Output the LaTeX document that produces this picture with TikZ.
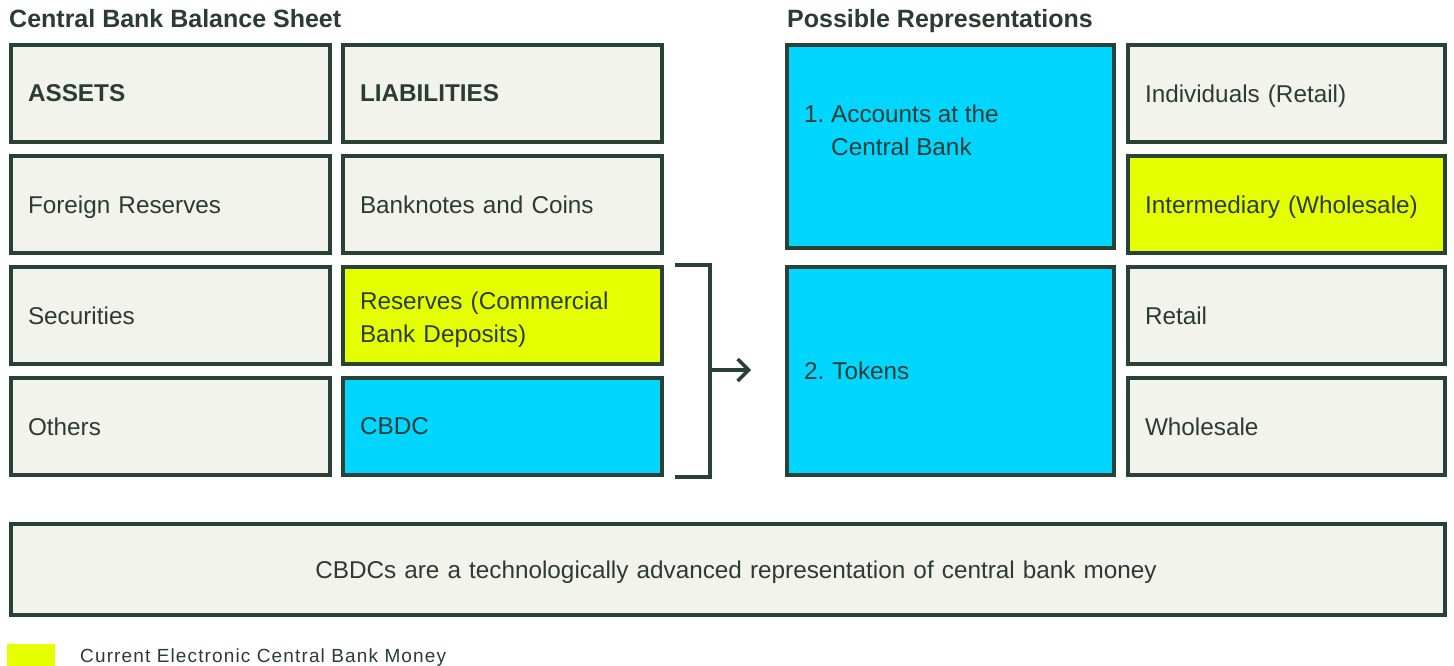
\documentclass[tikz,border=0pt]{standalone}
\usepackage{fontspec}
\setmainfont{Liberation Sans}
\usetikzlibrary{arrows.meta}
\definecolor{edge}{HTML}{284236}
\definecolor{ink}{HTML}{2A3C33}
\definecolor{paper}{HTML}{F3F3EE}
\definecolor{cyanbox}{HTML}{00D6FF}
\definecolor{limebox}{HTML}{E6FF00}
\begin{document}
\begin{tikzpicture}[x=1pt,y=-1pt,
  body/.style={font=\fontsize{24.3}{33.5}\selectfont},
  cell/.style={draw=edge, line width=4pt, fill=paper, inner sep=0pt,
    minimum width=319pt, minimum height=97pt, text width=285pt,
    text depth=0pt, align=left, text=ink, body},
  rcell/.style={cell, minimum width=317pt, text width=283pt},
  title/.style={anchor=base west, inner sep=0pt, text=ink,
    font=\fontsize{25}{28}\selectfont\bfseries},
  lime/.style={fill=limebox},
  sky/.style={fill=cyanbox},
  bracket/.style={draw=edge, line width=4pt},
  arrow/.style={draw=edge, line width=3.5pt,
    -{Straight Barb[length=11pt,width=22pt]}}
]
\useasboundingbox (0,0) rectangle (1454,666);

% titles
\node[title] (t1) at (9,28) {Central Bank Balance Sheet};
\node[title] (t2) at (787,28) {Possible Representations};

% balance sheet
\node[cell] (assets) at (170.5,93.5) {\bfseries ASSETS};
\node[cell] (liab)   at (502.5,93.5) {\bfseries LIABILITIES};
\node[cell] (forex)  at (170.5,204.5) {Foreign Reserves};
\node[cell] (notes)  at (502.5,204.5) {Banknotes and Coins};
\node[cell] (secs)   at (170.5,315.5) {Securities};
\node[cell, lime, text depth=30.5pt] (res) at (502.5,315.5) {Reserves (Commercial\\Bank Deposits)};
\node[cell] (others) at (170.5,426.5) {Others};
\node[cell, sky] (cbdc) at (502.5,426.5) {CBDC};

% representations
\node[cell, sky, minimum width=327pt, minimum height=203pt] (acc) at (950.5,146.5) {};
\node[anchor=west, inner sep=0pt, align=left, text=ink, body, text depth=0pt] (accT) at (804,130)
  {1.\ Accounts at the\\\hphantom{1.\ }Central Bank};
\node[cell, sky, minimum width=327pt, minimum height=208pt, text width=293pt] (tok) at (950.5,371) {2.\ Tokens};

\node[rcell] (indiv)  at (1286.5,93.5) {Individuals (Retail)};
\node[rcell, lime] (inter) at (1286.5,204.5) {Intermediary (Wholesale)};
\node[rcell] (retail) at (1286.5,315.5) {Retail};
\node[rcell] (whole)  at (1286.5,426.5) {Wholesale};

% bracket and arrow
\coordinate (bt) at ([xshift=11pt]res.north east);
\coordinate (bb) at ([xshift=11pt]cbdc.south east);
\draw[bracket] (bt) -- ++(35,0) |- (bb);
\coordinate (bm) at (708.5,370);
\coordinate (ae) at (751,370);
\draw[arrow] (bm) -- (ae);

% summary banner
\node[cell, minimum width=1434pt, minimum height=91pt, text width=1400pt, align=center]
  (banner) at (728,569.5)
  {\hspace*{16pt}CBDCs are a technologically advanced representation of central bank money};

% legend
\node[lime, minimum width=48pt, minimum height=24pt, inner sep=0pt] (key) at (31,656) {};
\node[anchor=base west, inner sep=0pt, text=ink,
  font=\fontsize{19}{20}\selectfont\addfontfeatures{LetterSpace=6}]
  (keyT) at (80,662) {Current Electronic Central Bank Money};
\end{tikzpicture}
\end{document}
